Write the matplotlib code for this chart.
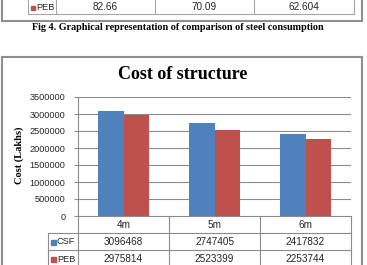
import numpy as np
import matplotlib.pyplot as plt
from matplotlib.lines import Line2D
from matplotlib.patches import Rectangle

# 上一张图（钢材用量）残留的表格行
prev_series = "PEB"
prev_values = [82.66, 70.09, 62.604]
prev_caption = "Fig 4. Graphical representation of comparison of steel consumption"

# 结构造价
categories = ["4m", "5m", "6m"]
csf_cost = [3096468, 2747405, 2417832]
peb_cost = [2975814, 2523399, 2253744]
series_names = ["CSF", "PEB"]
colors = ["#4F81BD", "#C0504D"]
yticks = np.arange(0, 3500001, 500000)

W, H = 367, 265
fig = plt.figure(figsize=(W / 100, H / 100), dpi=100)


def fx(x):
    return x / W


def fy(y):
    return 1 - y / H


def hline(x0, x1, y, color="#A6A6A6", lw=0.8):
    fig.add_artist(Line2D([fx(x0), fx(x1)], [fy(y), fy(y)], color=color, lw=lw))


def vline(x, y0, y1, color="#A6A6A6", lw=0.8):
    fig.add_artist(Line2D([fx(x), fx(x)], [fy(y0), fy(y1)], color=color, lw=lw))


sans = "Liberation Sans"
serif = "Liberation Serif"
grid_c = "#8C8C8C"
box_c = "#8F8F8F"
txt_c = "#262626"
tfs = 7.2   # 表格字号
lfs = 6.6   # 图例字号

# ---- 上方残留表格 ----
vline(2, -2, 21, box_c, 1.5)
vline(362, -2, 21, box_c, 1.5)
hline(2, 362, 21, box_c, 1.5)
pcols = [28, 56, 155, 254, 354]
for x in pcols:
    vline(x, -1, 14)
hline(28, 354, 14)
fig.add_artist(Rectangle((fx(30.5), fy(9.5)), 4 / W, 4 / H, color=colors[1]))
fig.text(fx(36.5), fy(7), prev_series, fontsize=lfs, family=sans, va="center", color=txt_c)
for i, v in enumerate(prev_values):
    fig.text(fx((pcols[i + 1] + pcols[i + 2]) / 2), fy(7), f"{v:g}",
             fontsize=tfs, family=sans, ha="center", va="center", color=txt_c)
fig.text(fx(178), fy(27), prev_caption, fontsize=7.3, family=serif,
         weight="bold", ha="center", va="center")

# ---- 图表外框 ----
vline(2, 57, 267, box_c, 1.5)
vline(362, 57, 267, box_c, 1.5)
hline(2, 362, 57, box_c, 1.5)

fig.text(fx(183), fy(75), "Cost of structure", fontsize=13, family=serif,
         weight="bold", ha="center", va="center")

# ---- 柱状图 ----
L, R, T, B = 78, 351, 97, 216
ax = fig.add_axes([fx(L), fy(B), (R - L) / W, (B - T) / H])
x = np.arange(len(categories))
bw = 0.285
ax.bar(x - bw / 2, csf_cost, bw, color=colors[0], zorder=3)
ax.bar(x + bw / 2, peb_cost, bw, color=colors[1], zorder=3)
ax.set_xlim(-0.5, len(categories) - 0.5)
ax.set_ylim(0, yticks[-1])
ax.set_yticks(yticks)
ax.set_yticklabels([str(v) for v in yticks], fontsize=6.6, family=sans, color=txt_c)
ax.tick_params(axis="y", length=3, width=0.8, color=grid_c, pad=6)
ax.set_xticks([])
for y in yticks[1:]:
    ax.axhline(y, color=grid_c, lw=0.8, zorder=1)
for s in ["top", "right", "bottom"]:
    ax.spines[s].set_visible(False)
ax.spines["left"].set_color(grid_c)
ax.spines["left"].set_linewidth(0.8)
ax.set_facecolor("none")

fig.text(fx(19), fy(155), "Cost (Lakhs)", fontsize=7.5, family=serif,
         weight="bold", rotation=90, ha="center", va="center")

# ---- 数据表 ----
cols = [L, 169, 260, R]
rows = [B, 233, 250, 267]
hline(L, R, rows[0], grid_c)
hline(48, R, rows[1], grid_c)
hline(48, R, rows[2], grid_c)
for xc in cols:
    vline(xc, rows[0], rows[3], grid_c)
vline(48, rows[1], rows[3], grid_c)
for i, c in enumerate(categories):
    fig.text(fx((cols[i] + cols[i + 1]) / 2), fy((rows[0] + rows[1]) / 2 + 0.5), c,
             fontsize=tfs, family=sans, ha="center", va="center", color=txt_c)
for r, (name, vals) in enumerate(zip(series_names, [csf_cost, peb_cost])):
    yc = (rows[r + 1] + rows[r + 2]) / 2 + 0.5
    fig.add_artist(Rectangle((fx(50.5), fy(yc + 2.5)), 5 / W, 5 / H, color=colors[r]))
    fig.text(fx(57), fy(yc), name, fontsize=lfs, family=sans, va="center", color=txt_c)
    for i, v in enumerate(vals):
        fig.text(fx((cols[i] + cols[i + 1]) / 2), fy(yc), str(v),
                 fontsize=tfs, family=sans, ha="center", va="center", color=txt_c)

fig.savefig("out.png", dpi=100)
